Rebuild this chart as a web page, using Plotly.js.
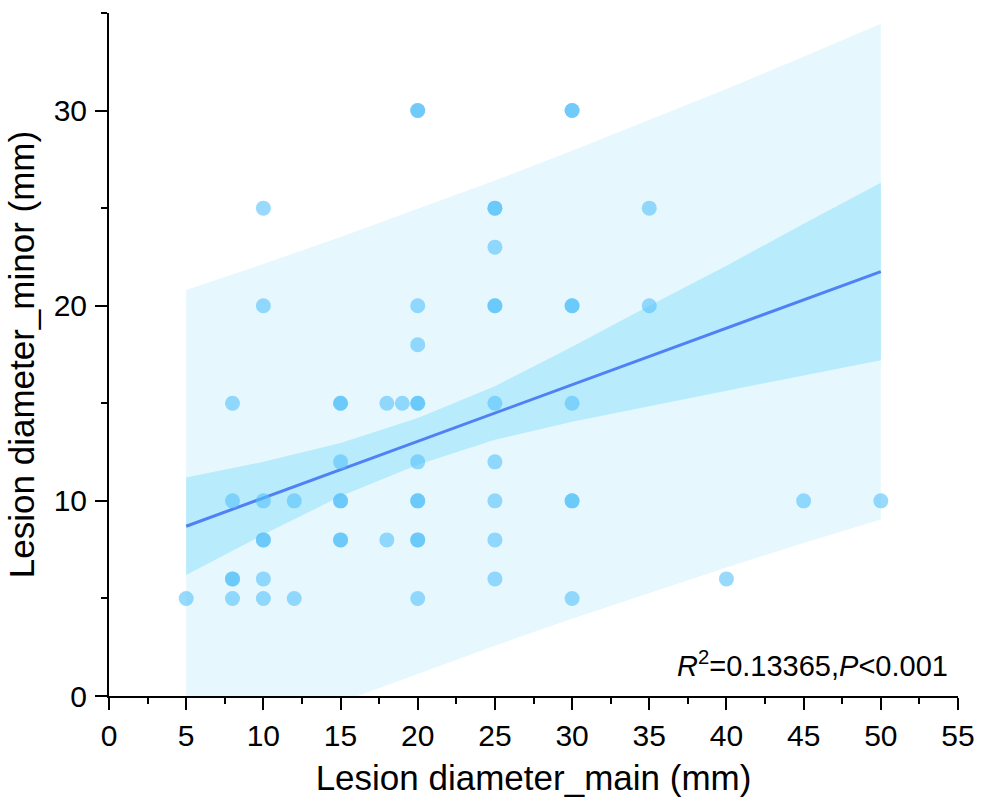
<!DOCTYPE html>
<html>
<head>
<meta charset="utf-8">
<script src="https://cdn.plot.ly/plotly-3.0.1.min.js"></script>
<style>html,body{margin:0;padding:0;background:#fff;}#chart{width:989px;height:803px;}</style>
</head>
<body>
<div id="chart"></div>
<script>
// Observed points (duplicates = overlapping darker markers)
const pointsX = [5,
  8,8,8,8,8,
  10,10,10,10,10,10,10,
  12,12,
  15,15,15,15,15,15,15,
  18,18,
  19,
  20,20,20,20,20,20,20,20,20,20,20,20,
  25,25,25,25,25,25,25,25,25,25,
  30,30,30,30,30,30,30,30,
  35,35,
  40,
  45,
  50];
const pointsY = [5,
  15,10,6,6,5,
  25,20,10,8,8,6,5,
  10,5,
  15,15,12,10,10,8,8,
  15,8,
  15,
  30,30,20,18,15,15,12,10,10,8,8,5,
  25,25,23,20,20,15,12,10,8,6,
  30,30,20,20,15,10,10,5,
  25,20,
  6,
  10,
  10];

// Fit line and bands
const bandX     = [5, 10, 15, 20, 25, 30, 35, 40, 45, 50];
const fitY      = [8.7, 10.15, 11.6, 13.05, 14.5, 15.95, 17.4, 18.85, 20.3, 21.75];
const confUpper = [11.2, 12.0, 12.97, 14.25, 15.87, 17.9, 20.0, 22.05, 24.2, 26.3];
const confLower = [6.2, 8.27, 10.23, 11.85, 13.13, 14.05, 14.85, 15.65, 16.43, 17.2];
const predUpper = [20.81, 22.14, 23.52, 24.95, 26.42, 27.94, 29.51, 31.11, 32.76, 34.45];
const predLower = [-3.41, -1.84, -0.32, 1.15, 2.58, 3.96, 5.29, 6.59, 7.84, 9.05];

const xTicks = [0, 5, 10, 15, 20, 25, 30, 35, 40, 45, 50, 55];
const yTicks = [0, 10, 20, 30];

const font = "Liberation Sans, Arial, sans-serif";

const traces = [
  {x: bandX, y: predLower, type: 'scatter', mode: 'lines', line: {width: 0}, hoverinfo: 'skip', showlegend: false},
  {x: bandX, y: predUpper, type: 'scatter', mode: 'lines', line: {width: 0}, fill: 'tonexty', fillcolor: '#e6f8fe', hoverinfo: 'skip', showlegend: false},
  {x: bandX, y: confLower, type: 'scatter', mode: 'lines', line: {width: 0}, hoverinfo: 'skip', showlegend: false},
  {x: bandX, y: confUpper, type: 'scatter', mode: 'lines', line: {width: 0}, fill: 'tonexty', fillcolor: '#b8ebfc', hoverinfo: 'skip', showlegend: false},
  {x: bandX, y: fitY, type: 'scatter', mode: 'lines', line: {color: '#5080f5', width: 3}, showlegend: false},
  {x: pointsX, y: pointsY, type: 'scatter', mode: 'markers',
   marker: {size: 15, color: 'rgb(85,193,250)', opacity: 0.6, line: {width: 0}}, showlegend: false}
];

const layout = {
  width: 989, height: 803,
  margin: {l: 109, r: 31, t: 13, b: 107},
  paper_bgcolor: '#fff', plot_bgcolor: '#fff',
  font: {family: font, color: '#000'},
  xaxis: {
    range: [0, 55], tickvals: xTicks, ticktext: xTicks.map(String),
    showgrid: false, zeroline: false, showline: true, linecolor: '#000', linewidth: 2,
    ticks: 'outside', ticklen: 12, tickwidth: 2, tickcolor: '#000',
    tickfont: {size: 30, family: font, color: '#000'},
    minor: {dtick: 2.5, tick0: 0, ticks: 'outside', ticklen: 6, tickwidth: 2, tickcolor: '#000', showgrid: false},
    title: {text: 'Lesion diameter_main (mm)', font: {size: 35, family: font, color: '#000'}, standoff: 14},
    fixedrange: true
  },
  yaxis: {
    range: [0, 35], tickvals: yTicks, ticktext: yTicks.map(String),
    showgrid: false, zeroline: false, showline: true, linecolor: '#000', linewidth: 2,
    ticks: 'outside', ticklen: 12, tickwidth: 2, tickcolor: '#000',
    tickfont: {size: 30, family: font, color: '#000'},
    ticklabelstandoff: 2,
    minor: {dtick: 5, tick0: 0, ticks: 'outside', ticklen: 6, tickwidth: 2, tickcolor: '#000', showgrid: false},
    title: {text: 'Lesion diameter_minor (mm)', font: {size: 35, family: font, color: '#000'}, standoff: 8},
    fixedrange: true
  },
  annotations: [{
    xref: 'paper', yref: 'paper', x: 0.991, y: 0.047, xanchor: 'right', yanchor: 'middle',
    text: '<i>R</i><sup>2</sup>=0.13365,<i>P</i><0.001', showarrow: false,
    font: {size: 29, family: font, color: '#000'}
  }]
};

Plotly.newPlot('chart', traces, layout, {displayModeBar: false, staticPlot: true});
</script>
</body>
</html>
